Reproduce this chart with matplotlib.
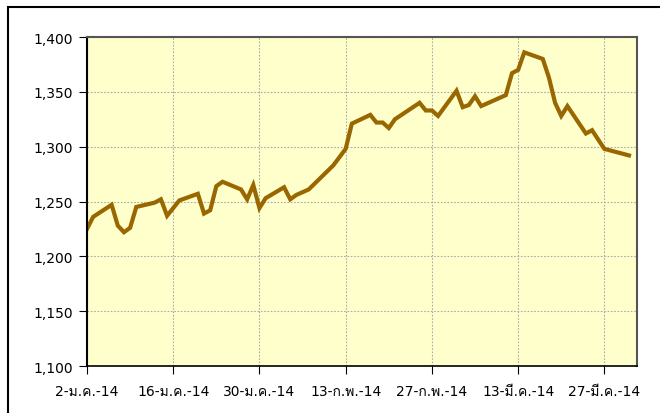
import matplotlib
matplotlib.use("Agg")
import matplotlib.pyplot as plt
from matplotlib import font_manager
from matplotlib.ft2font import FT2Font
from matplotlib.patches import Rectangle
from matplotlib.ticker import FuncFormatter, MultipleLocator
import datetime as dt


def thai_families():
    # look for any installed font that actually carries Thai glyphs
    found = []
    for f in font_manager.fontManager.ttflist:
        try:
            cmap = FT2Font(f.fname).get_charmap()
        except Exception:
            continue
        if ord("ก") in cmap and ord("ม") in cmap and f.name not in found:
            found.append(f.name)
    return found


plt.rcParams.update({
    'font.family': ['DejaVu Sans'] + thai_families() + ['Noto Sans'],
    'font.size': 10,
    'xtick.direction': 'out', 'ytick.direction': 'out',
    'xtick.major.size': 6, 'ytick.major.size': 6,
})

# price series (weekdays)
dates = [
    "2014-01-02", "2014-01-03", "2014-01-06", "2014-01-07", "2014-01-08",
    "2014-01-09", "2014-01-10", "2014-01-13", "2014-01-14", "2014-01-15",
    "2014-01-17", "2014-01-20", "2014-01-21", "2014-01-22", "2014-01-23",
    "2014-01-24", "2014-01-27", "2014-01-28", "2014-01-29", "2014-01-30",
    "2014-01-31", "2014-02-03", "2014-02-04", "2014-02-05", "2014-02-07",
    "2014-02-11", "2014-02-13", "2014-02-14", "2014-02-17", "2014-02-18",
    "2014-02-19", "2014-02-20", "2014-02-21", "2014-02-25", "2014-02-26",
    "2014-02-27", "2014-02-28", "2014-03-03", "2014-03-04", "2014-03-05",
    "2014-03-06", "2014-03-07", "2014-03-11", "2014-03-12", "2014-03-13",
    "2014-03-14", "2014-03-17", "2014-03-18", "2014-03-19", "2014-03-20",
    "2014-03-21", "2014-03-24", "2014-03-25", "2014-03-27", "2014-03-31",
]
prices = [
    1225, 1236, 1247, 1228, 1222,
    1226, 1245, 1249, 1252, 1237,
    1251, 1257, 1239, 1242, 1264,
    1268, 1261, 1252, 1265, 1244,
    1253, 1263, 1252, 1256, 1261,
    1283, 1298, 1321, 1329, 1322,
    1322, 1317, 1325, 1340, 1333,
    1333, 1328, 1351, 1336, 1338,
    1346, 1337, 1347, 1367, 1370,
    1386, 1380, 1363, 1340, 1328,
    1337, 1312, 1315, 1298, 1292,
]

tick_dates = ["2014-01-02", "2014-01-16", "2014-01-30", "2014-02-13",
              "2014-02-27", "2014-03-13", "2014-03-27"]
tick_labels = ["2-ม.ค.-14", "16-ม.ค.-14", "30-ม.ค.-14", "13-ก.พ.-14",
               "27-ก.พ.-14", "13-มี.ค.-14", "27-มี.ค.-14"]

x = [dt.datetime.strptime(d, "%Y-%m-%d") for d in dates]
xt = [dt.datetime.strptime(d, "%Y-%m-%d") for d in tick_dates]

fig = plt.figure(figsize=(6.6, 4.14), dpi=100)
ax = fig.add_axes([87 / 660, 1 - 367 / 414, 550 / 660, 329 / 414])

# outer chart border (only left and top are visible in the crop)
fig.patches.append(Rectangle((8 / 660, -0.1), 1.2, 1.1 - 8 / 414, transform=fig.transFigure,
                             fill=False, edgecolor="black", linewidth=1.5))

ax.set_facecolor("#FFFFCC")
ax.plot(x, prices, color="#996600", linewidth=3, solid_joinstyle="miter")

ax.set_ylim(1100, 1400)
ax.yaxis.set_major_locator(MultipleLocator(50))
ax.yaxis.set_major_formatter(FuncFormatter(lambda v, p: f"{v:,.0f}"))
ax.set_xlim(xt[0], xt[0] + dt.timedelta(days=89.3))
ax.set_xticks(xt)
ax.set_xticklabels(tick_labels)
ax.tick_params(axis="x", pad=7)
ax.tick_params(axis="y", pad=4)

ax.grid(True, color="#aaaaaa", linestyle=(0, (1.5, 1.5)), linewidth=0.8)
ax.set_axisbelow(True)

ax.spines["left"].set_linewidth(1.5)
ax.spines["bottom"].set_linewidth(1.2)
for s in ["top", "right"]:
    ax.spines[s].set_color("#555555")
    ax.spines[s].set_linewidth(1.5)

fig.savefig("out.png", dpi=100)
